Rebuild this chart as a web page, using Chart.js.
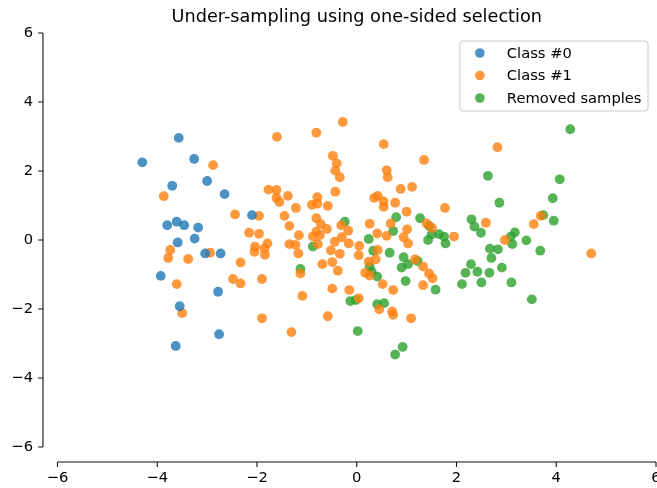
<!DOCTYPE html>
<html>
<head>
<meta charset="utf-8">
<script src="https://cdn.jsdelivr.net/npm/chart.js@4"></script>
<style>
    body { margin: 0; background: #fff; }
    #wrap { width: 657px; height: 488px; position: relative; }
</style>
</head>
<body>
<div id="wrap"><canvas id="scatterChart"></canvas></div>
<script>
// --- data ---
const seriesLabels = ['Class #0', 'Class #1', 'Removed samples'];
const seriesColors = ['rgba(31, 119, 180, 0.8)', 'rgba(255, 127, 14, 0.8)', 'rgba(44, 160, 44, 0.8)'];

const class0 = [
    [-4.30, 2.25], [-3.57, 2.96], [-3.26, 2.35], [-3.70, 1.57], [-3.00, 1.71],
    [-2.65, 1.33], [-2.10, 0.72], [-3.80, 0.43], [-3.61, 0.53], [-3.46, 0.43],
    [-3.18, 0.36], [-3.25, 0.04], [-3.59, -0.07], [-3.04, -0.39], [-2.73, -0.39],
    [-3.93, -1.04], [-2.78, -1.50], [-3.55, -1.92], [-2.76, -2.73], [-3.63, -3.07]
];

const class1 = [
    [-1.60, 2.99], [-2.88, 2.17], [-3.87, 1.27], [-1.77, 1.46], [-1.61, 1.45],
    [-1.61, 1.22], [-1.55, 1.10], [-2.44, 0.74], [-1.96, 0.70], [-2.16, 0.21],
    [-1.96, 0.18], [-3.74, -0.29], [-3.78, -0.52], [-3.38, -0.55], [-2.94, -0.37],
    [-2.04, -0.19], [-1.79, -0.10], [-2.05, -0.34], [-1.85, -0.24], [-1.84, -0.43],
    [-2.33, -0.65], [-3.61, -1.28], [-2.48, -1.13], [-2.33, -1.26], [-1.90, -1.13],
    [-3.50, -2.12], [-1.90, -2.27], [-0.28, 3.42], [-0.81, 3.11], [0.54, 2.78],
    [-0.48, 2.44], [-0.40, 2.22], [-0.43, 2.01], [-0.34, 1.82], [1.35, 2.32],
    [0.60, 2.02], [0.62, 1.82], [-1.38, 1.28], [-1.22, 0.93], [-1.45, 0.70],
    [-1.35, 0.41], [-1.16, 0.14], [-0.43, 1.40], [-0.79, 1.24], [-0.90, 1.02],
    [-0.79, 1.05], [-0.58, 0.99], [-0.81, 0.63], [-0.72, 0.46], [-0.60, 0.32],
    [-0.81, 0.24], [-0.74, 0.14], [-0.31, 0.43], [-0.17, 0.27], [0.26, 0.47],
    [0.41, 0.19], [0.35, 1.22], [0.42, 1.28], [0.54, 1.12], [0.54, 0.96],
    [0.77, 1.08], [0.88, 1.48], [1.11, 1.54], [1.00, 0.82], [0.68, 0.48],
    [1.01, 0.31], [1.40, 0.48], [0.94, 0.08], [0.60, 0.12], [-1.35, -0.12],
    [-1.23, -0.14], [-0.78, -0.12], [-0.88, 0.10], [-1.17, -0.39], [-0.44, -0.05],
    [-0.30, 0.08], [-0.16, -0.10], [-0.52, -0.30], [-0.34, -0.40], [0.05, -0.17],
    [0.04, -0.44], [0.42, -0.29], [1.03, -0.10], [1.17, -0.56], [1.33, -0.77],
    [1.45, -0.97], [0.24, -0.63], [0.38, -0.56], [0.17, -0.95], [0.26, -1.03],
    [-0.69, -0.70], [-0.49, -0.64], [-0.38, -0.89], [-1.13, -0.97], [0.52, -1.28],
    [0.73, -1.45], [1.33, -1.31], [-0.49, -1.41], [-0.15, -1.45], [-1.09, -1.62],
    [0.04, -1.69], [0.45, -2.01], [0.71, -2.07], [0.73, -2.17], [1.09, -2.27],
    [-0.58, -2.21], [-1.31, -2.67], [2.82, 2.69], [1.77, 0.93], [1.51, 0.35],
    [2.59, 0.50], [3.55, 0.46], [3.69, 0.70], [2.97, 0.00], [1.95, 0.10],
    [4.70, -0.39], [1.52, -1.11]
];

const removed = [
    [-0.24, 0.53], [0.79, 0.66], [0.73, 0.26], [1.27, 0.63], [1.45, 0.41],
    [0.24, 0.03], [-0.88, -0.19], [0.33, -0.31], [0.66, -0.37], [1.43, 0.00],
    [0.94, -0.50], [0.90, -0.80], [1.03, -0.70], [1.22, -0.61], [0.26, -0.77],
    [0.30, -0.92], [0.41, -1.06], [-1.13, -0.84], [0.98, -1.19], [-0.13, -1.77],
    [-0.02, -1.74], [0.41, -1.86], [0.55, -1.83], [0.02, -2.64], [0.92, -3.10],
    [0.77, -3.32], [4.28, 3.21], [2.63, 1.86], [4.07, 1.76], [2.86, 1.08],
    [3.93, 1.21], [2.30, 0.60], [2.36, 0.39], [2.49, 0.21], [3.74, 0.72],
    [3.95, 0.56], [3.17, 0.22], [3.09, 0.10], [3.40, -0.01], [1.50, 0.16],
    [1.65, 0.17], [1.75, 0.10], [1.78, -0.10], [3.12, -0.12], [3.68, -0.31],
    [2.67, -0.25], [2.83, -0.27], [2.70, -0.52], [2.29, -0.70], [2.18, -0.95],
    [2.42, -0.92], [2.66, -0.95], [2.91, -0.80], [2.11, -1.28], [2.50, -1.23],
    [3.10, -1.23], [3.51, -1.72], [1.58, -1.44]
];

const xTicks = [-6, -4, -2, 0, 2, 4, 6];
const yTicks = [-6, -4, -2, 0, 2, 4, 6];
const xTickLabels = ['\u22126', '\u22124', '\u22122', '0', '2', '4', '6'];
const yTickLabels = ['\u22126', '\u22124', '\u22122', '0', '2', '4', '6'];

const FONT = 'DejaVu Sans';
const toPoints = arr => arr.map(p => ({ x: p[0], y: p[1] }));

// offset spines like seaborn's despine(offset=...)
const spinesPlugin = {
    id: 'spines',
    afterDraw(chart) {
        const { ctx, chartArea, scales } = chart;
        const xs = scales.x, ys = scales.y;
        const sx = chartArea.left - 14.5;
        const sy = chartArea.bottom + 15;
        ctx.save();
        ctx.strokeStyle = '#111';
        ctx.lineWidth = 1.1;
        ctx.beginPath();
        ctx.moveTo(sx, ys.getPixelForValue(yTicks[yTicks.length - 1]));
        ctx.lineTo(sx, ys.getPixelForValue(yTicks[0]));
        yTicks.forEach(v => {
            const py = ys.getPixelForValue(v);
            ctx.moveTo(sx - 4.9, py);
            ctx.lineTo(sx, py);
        });
        ctx.moveTo(xs.getPixelForValue(xTicks[0]), sy);
        ctx.lineTo(xs.getPixelForValue(xTicks[xTicks.length - 1]), sy);
        xTicks.forEach(v => {
            const px = xs.getPixelForValue(v);
            ctx.moveTo(px, sy);
            ctx.lineTo(px, sy + 4.9);
        });
        ctx.stroke();
        ctx.restore();
    }
};

// matplotlib-like legend in the upper right of the axes
const legendPlugin = {
    id: 'mplLegend',
    afterDraw(chart) {
        const { ctx, chartArea } = chart;
        const sets = chart.data.datasets;
        ctx.save();
        ctx.font = '14.7px "' + FONT + '"';
        const textW = Math.max(...sets.map(d => ctx.measureText(d.label).width));
        const w = textW + 47 + 6.5;
        const h = 70;
        const right = chartArea.right - 8;
        const top = chartArea.top + 8;
        const left = right - w;
        ctx.beginPath();
        ctx.roundRect(left, top, w, h, 3);
        ctx.fillStyle = 'rgba(255,255,255,0.8)';
        ctx.fill();
        ctx.strokeStyle = '#cccccc';
        ctx.lineWidth = 1;
        ctx.stroke();
        sets.forEach((d, i) => {
            const cy = top + 12 + i * 22.5;
            ctx.beginPath();
            ctx.arc(left + 20, cy, 4.8, 0, Math.PI * 2);
            ctx.fillStyle = d.backgroundColor;
            ctx.fill();
            ctx.fillStyle = '#000';
            ctx.textBaseline = 'middle';
            ctx.textAlign = 'left';
            ctx.fillText(d.label, left + 47, cy + 1);
        });
        ctx.restore();
    }
};

const ctx = document.getElementById('scatterChart');
new Chart(ctx, {
    type: 'scatter',
    data: {
        datasets: [class0, class1, removed].map((arr, i) => ({
            label: seriesLabels[i],
            data: toPoints(arr),
            backgroundColor: seriesColors[i],
            borderWidth: 0,
            pointRadius: 4.9,
            pointHoverRadius: 4.9
        }))
    },
    options: {
        responsive: true,
        maintainAspectRatio: false,
        devicePixelRatio: 1,
        animation: false,
        layout: { autoPadding: false, padding: { left: 0, right: 1, top: 0, bottom: 0 } },
        plugins: {
            legend: { display: false },
            tooltip: { enabled: false },
            title: {
                display: true,
                fullSize: false,
                text: 'Under-sampling using one-sided selection',
                color: '#000',
                font: { family: FONT, size: 17.7, weight: 'normal' },
                padding: { top: 6.5, bottom: 5.26 }
            }
        },
        scales: {
            x: {
                type: 'linear',
                min: -6,
                max: 6,
                grid: { display: false, drawTicks: false },
                border: { display: false },
                afterBuildTicks: s => { s.ticks = xTicks.map(v => ({ value: v })); },
                afterFit: s => { s.height = 41; s.paddingLeft = 0; s.paddingRight = 0; },
                ticks: {
                    color: '#000',
                    padding: 22.2,
                    maxRotation: 0,
                    font: { family: FONT, size: 14.7 },
                    callback: (v, i) => xTickLabels[i]
                }
            },
            y: {
                type: 'linear',
                min: -6,
                max: 6,
                grid: { display: false, drawTicks: false },
                border: { display: false },
                afterBuildTicks: s => { s.ticks = yTicks.map(v => ({ value: v })); },
                afterFit: s => { s.width = 57.5; s.paddingTop = 0; s.paddingBottom = 0; },
                ticks: {
                    color: '#000',
                    padding: 24.5,
                    font: { family: FONT, size: 14.7 },
                    callback: (v, i) => yTickLabels[i]
                }
            }
        }
    },
    plugins: [spinesPlugin, legendPlugin]
});
</script>
</body>
</html>
